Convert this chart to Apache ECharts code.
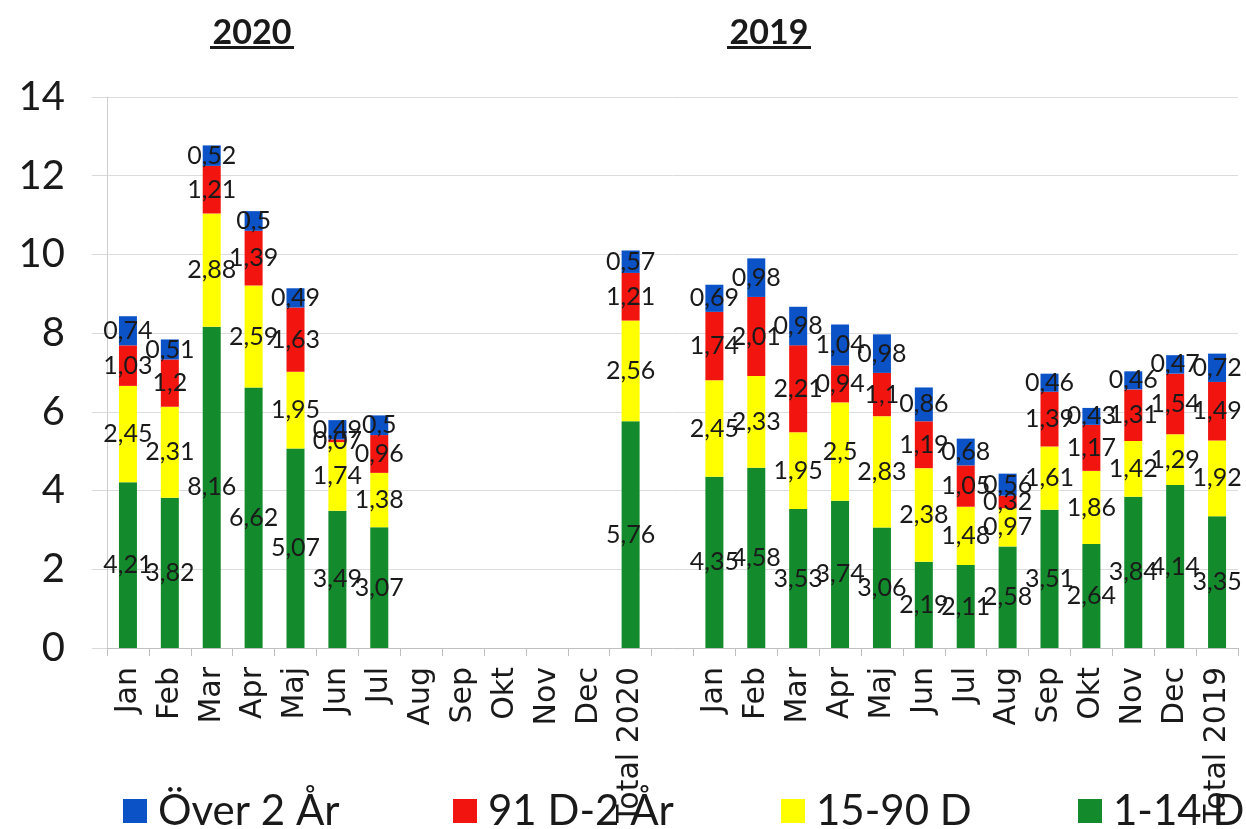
<!DOCTYPE html>
<html>
<head>
<meta charset="utf-8">
<script src="https://cdn.jsdelivr.net/npm/echarts@6/dist/echarts.min.js"></script>
<style>
html,body{margin:0;padding:0;background:#fff;}
#chart{width:1246px;height:829px;}
</style>
</head>
<body>
<div id="chart"></div>
<script>
const categories = ['Jan','Feb','Mar','Apr','Maj','Jun','Jul','Aug','Sep','Okt','Nov','Dec','Total 2020','',
  'Jan','Feb','Mar','Apr','Maj','Jun','Jul','Aug','Sep','Okt','Nov','Dec','Total 2019'];

// 2020 months, Total 2020, gap, 2019 months, Total 2019
const d1_14 = [4.21,3.82,8.16,6.62,5.07,3.49,3.07,null,null,null,null,null,5.76,null,
  4.35,4.58,3.53,3.74,3.06,2.19,2.11,2.58,3.51,2.64,3.84,4.14,3.35];
const d15_90 = [2.45,2.31,2.88,2.59,1.95,1.74,1.38,null,null,null,null,null,2.56,null,
  2.45,2.33,1.95,2.5,2.83,2.38,1.48,0.97,1.61,1.86,1.42,1.29,1.92];
const d91_2 = [1.03,1.2,1.21,1.39,1.63,0.07,0.96,null,null,null,null,null,1.21,null,
  1.74,2.01,2.21,0.94,1.1,1.19,1.05,0.32,1.39,1.17,1.31,1.54,1.49];
const dOver2 = [0.74,0.51,0.52,0.5,0.49,0.49,0.5,null,null,null,null,null,0.57,null,
  0.69,0.98,0.98,1.04,0.98,0.86,0.68,0.56,0.46,0.43,0.46,0.47,0.72];

const seriesNames = ['1-14 D','15-90 D','91 D-2 År','Över 2 År'];
const seriesColors = ['#138a2c','#ffff00','#f2140f','#0b52c6'];
const seriesData = [d1_14, d15_90, d91_2, dOver2];
const yTicks = {min:0, max:14, interval:2};
const titles = ['2020','2019'];

const chart = echarts.init(document.getElementById('chart'));

const series = seriesNames.map((n,i)=>({
  name:n, type:'bar', stack:'all', barWidth:18,
  data: seriesData[i],
  itemStyle:{color:seriesColors[i]},
  label:{show:true, position:'inside', color:'#1a1a1a', fontFamily:'Lato', fontSize:25,
    formatter: p => (p.value==null ? '' : String(p.value).replace('.',','))},
  labelLayout:{hideOverlap:false}
}));

const legendPos = [['Över 2 År',118],['91 D-2 År',448],['15-90 D',776],['1-14 D',1073]];

chart.setOption({
  animation:false,
  backgroundColor:'#fff',
  grid:{left:107, right:8, top:97, bottom:181, containLabel:false},
  xAxis:{type:'category', data:categories, boundaryGap:true,
    axisLine:{lineStyle:{color:'#bfbfbf', width:1}},
    axisTick:{show:true, length:8, lineStyle:{color:'#bfbfbf'}, alignWithLabel:false},
    axisLabel:{rotate:90, interval:0, margin:19, color:'#1a1a1a', fontFamily:'DejaVu Sans', fontSize:30}
  },
  yAxis:{type:'value', min:yTicks.min, max:yTicks.max, interval:yTicks.interval,
    axisLine:{show:true, lineStyle:{color:'#cfcfcf'}},
    axisTick:{show:true, length:15, lineStyle:{color:'#d9d9d9'}},
    splitLine:{lineStyle:{color:'#dcdcdc'}},
    axisLabel:{margin:42, color:'#1a1a1a', fontFamily:'Lato', fontSize:40}
  },
  legend: legendPos.map(([n,x])=>({
    data:[n], left:x, top:785, itemWidth:24, itemHeight:24, icon:'rect', itemGap:0,
    textStyle:{fontFamily:'Lato', fontSize:42, color:'#1a1a1a', padding:[0,0,0,6]}
  })),
  graphic:[
    {type:'text', position:[252,33], z:10,
      style:{text:titles[0], x:0, y:0, align:'center', verticalAlign:'middle', font:'bold 34px Lato', fill:'#1a1a1a'}},
    {type:'rect', position:[210,46], shape:{width:84, height:3}, style:{fill:'#1a1a1a'}},
    {type:'text', position:[769,33], z:10,
      style:{text:titles[1], x:0, y:0, align:'center', verticalAlign:'middle', font:'bold 34px Lato', fill:'#1a1a1a'}},
    {type:'rect', position:[727,46], shape:{width:84, height:3}, style:{fill:'#1a1a1a'}}
  ],
  series: series
});
</script>
</body>
</html>
